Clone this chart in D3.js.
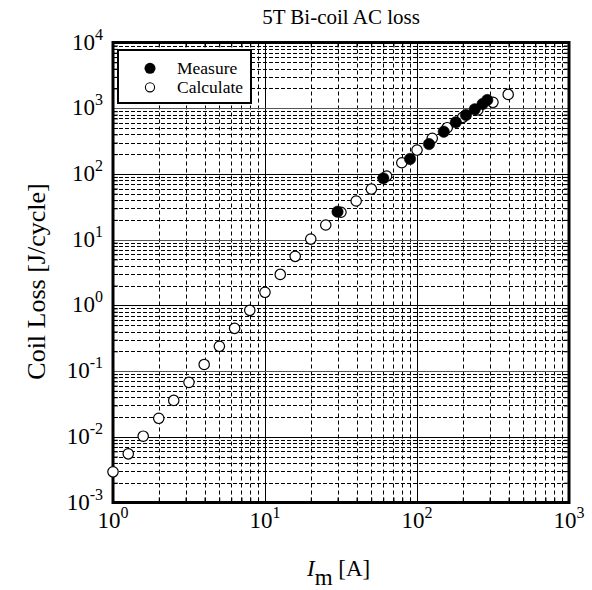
<!DOCTYPE html>
<html><head><meta charset="utf-8">
<script src="https://cdn.jsdelivr.net/npm/d3@7"></script>
<style>body{margin:0;background:#fff}</style>
</head><body>
<svg id="c" width="592" height="590"></svg>
<script>
// ---- data ----
const calcCurrent = [1, 1.26, 1.58, 2, 2.51, 3.16, 3.98, 5.01, 6.31, 7.94, 10, 12.6, 15.8, 20, 25.1, 31.6, 39.8, 50.1, 63.1, 79.4, 100, 126, 158, 200, 251, 316, 398];
const calcLoss = [0.00293, 0.0055, 0.0102, 0.0191, 0.0358, 0.0673, 0.126, 0.238, 0.447, 0.839, 1.58, 2.96, 5.57, 10.2, 16.7, 26.1, 38.7, 58.9, 92.9, 148, 231, 348, 505, 726, 940, 1230, 1622];
const measCurrent = [30, 60, 90, 120, 150, 180, 210, 240, 270, 290];
const measLoss = [26.6, 85.7, 169, 285, 439, 610, 788, 962, 1159, 1333];
const xExponents = [0, 1, 2, 3];
const yExponents = [-3, -2, -1, 0, 1, 2, 3, 4];
const seriesNames = ["Measure", "Calculate"];
const titleText = "5T Bi-coil AC loss";
const yTitleText = "Coil Loss [J/cycle]";

// ---- layout ----
const svg = d3.select("#c");
const L = 113, R = 569, T = 42.5, B = 502.5;
const font = "'Liberation Serif','Times New Roman',Times,serif";
const x = d3.scaleLog().domain([1, 1000]).range([L, R]);
const y = d3.scaleLog().domain([1e-3, 1e4]).range([B, T]);

const xMajor = xExponents.map(e => Math.pow(10, e));
const yMajor = yExponents.map(e => Math.pow(10, e));
const minorOf = exps => {
  const out = [];
  for (let i = 0; i < exps.length - 1; i++)
    for (let m = 2; m <= 9; m++) out.push(m * Math.pow(10, exps[i]));
  return out;
};
const xMinor = minorOf(xExponents);
const yMinor = minorOf(yExponents);
const px = v => Math.round(v) + 0.5;

// grid
const g = svg.append("g");
g.selectAll(".vm").data(xMinor).join("line")
  .attr("x1", d => px(x(d))).attr("x2", d => px(x(d)))
  .attr("y1", T).attr("y2", B)
  .attr("stroke", "#000").attr("stroke-width", 1).attr("stroke-dasharray", "4,3");
g.selectAll(".hm").data(yMinor).join("line")
  .attr("x1", L).attr("x2", R)
  .attr("y1", d => px(y(d))).attr("y2", d => px(y(d)))
  .attr("stroke", "#000").attr("stroke-width", 1).attr("stroke-dasharray", "4,2");
g.selectAll(".vM").data(xMajor.slice(1, -1)).join("line")
  .attr("x1", d => px(x(d))).attr("x2", d => px(x(d)))
  .attr("y1", T).attr("y2", B).attr("stroke", "#000").attr("stroke-width", 1);
g.selectAll(".hM").data(yMajor.slice(1, -1)).join("line")
  .attr("x1", L).attr("x2", R)
  .attr("y1", d => px(y(d))).attr("y2", d => px(y(d)))
  .attr("stroke", (d, i) => i % 2 ? "#555" : "#000").attr("stroke-width", 1);

// inward ticks via axes
const tickStyle = sel => { sel.select(".domain").remove(); sel.selectAll("line").attr("stroke", "#000").attr("stroke-width", 1); sel.selectAll("text").remove(); };
svg.append("g").attr("transform", `translate(0,${B})`).call(d3.axisBottom(x).tickValues(xMinor).tickSize(-5).tickFormat("")).call(tickStyle);
svg.append("g").attr("transform", `translate(0,${T})`).call(d3.axisTop(x).tickValues(xMinor).tickSize(-5).tickFormat("")).call(tickStyle);
svg.append("g").attr("transform", `translate(${L},0)`).call(d3.axisLeft(y).tickValues(yMinor).tickSize(-5).tickFormat("")).call(tickStyle);
svg.append("g").attr("transform", `translate(${R},0)`).call(d3.axisRight(y).tickValues(yMinor).tickSize(-5).tickFormat("")).call(tickStyle);

// frame
svg.append("rect").attr("x", L).attr("y", T).attr("width", R - L).attr("height", B - T)
  .attr("fill", "none").attr("stroke", "#000").attr("stroke-width", 3);

// tick labels
const xl = svg.append("g").attr("font-family", font).attr("fill", "#000");
xExponents.forEach(e => {
  const t = xl.append("text").attr("x", x(Math.pow(10, e))).attr("y", B + 25)
    .attr("text-anchor", "middle").attr("font-size", 23);
  t.append("tspan").text("10");
  t.append("tspan").attr("dy", -10).attr("font-size", 16).text(e);
});
yExponents.forEach(e => {
  const t = xl.append("text").attr("x", 103).attr("y", y(Math.pow(10, e)) + 7)
    .attr("text-anchor", "end").attr("font-size", 23);
  t.append("tspan").text("10");
  t.append("tspan").attr("dy", -10).attr("font-size", 16).text(e);
});

// titles
svg.append("text").attr("x", (L + R) / 2).attr("y", 24).attr("text-anchor", "middle")
  .attr("font-family", font).attr("font-size", 21).text(titleText);
const xt = svg.append("text").attr("x", 307).attr("y", 576)
  .attr("font-family", font).attr("font-size", 23);
xt.append("tspan").attr("font-style", "italic").text("I");
xt.append("tspan").attr("dy", 9).text("m");
xt.append("tspan").attr("dy", -9).text(" [A]");
svg.append("text").attr("transform", "translate(45,281.5) rotate(-90)")
  .attr("text-anchor", "middle").attr("font-family", font).attr("font-size", 26).text(yTitleText);

// points
const calc = calcCurrent.map((c, i) => ({ c, v: calcLoss[i] }));
const meas = measCurrent.map((c, i) => ({ c, v: measLoss[i] }));
svg.append("g").selectAll("circle").data(calc).join("circle")
  .attr("cx", d => x(d.c)).attr("cy", d => y(d.v)).attr("r", 5.2)
  .attr("fill", "#fff").attr("stroke", "#000").attr("stroke-width", 1.2);
svg.append("g").selectAll("circle").data(meas).join("circle")
  .attr("cx", d => x(d.c)).attr("cy", d => y(d.v)).attr("r", 5.7)
  .attr("fill", "#000").attr("stroke", "#000").attr("stroke-width", 0.5);

// legend
const lg = svg.append("g");
lg.append("rect").attr("x", 118).attr("y", 50).attr("width", 133).attr("height", 53)
  .attr("fill", "#fff").attr("stroke", "#000").attr("stroke-width", 2);
lg.append("circle").attr("cx", 150).attr("cy", 68.3).attr("r", 5.5).attr("fill", "#000");
lg.append("circle").attr("cx", 150).attr("cy", 87.3).attr("r", 4.6).attr("fill", "#fff").attr("stroke", "#000").attr("stroke-width", 1.1);
lg.selectAll("text").data(seriesNames).join("text")
  .attr("x", 177).attr("y", (d, i) => 74 + i * 19.3)
  .attr("font-family", font).attr("font-size", 17.5).text(d => d);
</script>
</body></html>
